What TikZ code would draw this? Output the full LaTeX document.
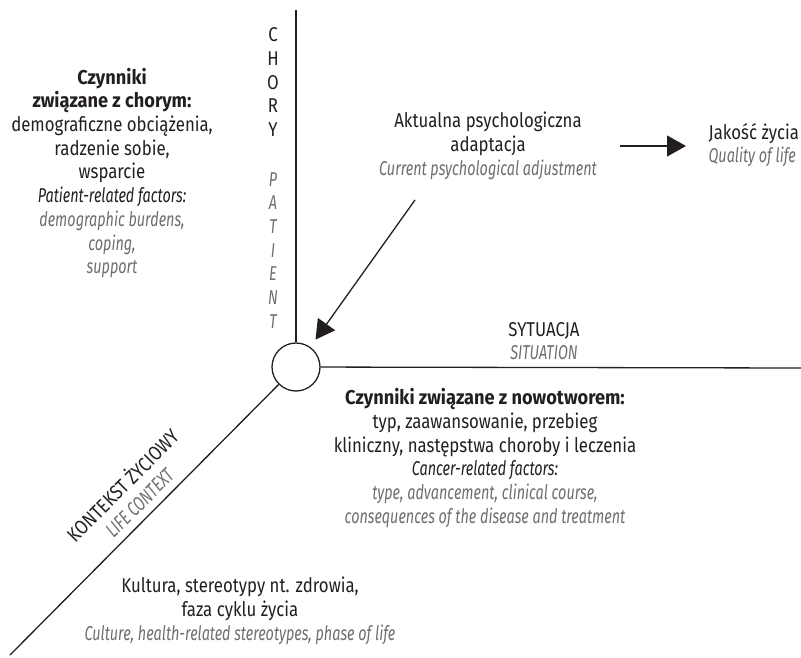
\documentclass[tikz,border=0pt]{standalone}
\usepackage{fontspec}
\setmainfont{Fira Sans}[FakeStretch=0.84, BoldFeatures={FakeStretch=0.91}, ItalicFeatures={FakeStretch=0.72}]
\usetikzlibrary{arrows.meta}
\definecolor{ink}{HTML}{231F20}
\definecolor{engl}{HTML}{6D6E71}
\newcommand{\eng}[1]{\textcolor{engl}{\itshape #1}}

\begin{document}
\begin{tikzpicture}[x=1pt, y=-1pt, line width=1.3pt, draw=ink,
  txt/.style={align=center, text=ink, inner sep=0pt, font=\fontsize{20}{23.7}\selectfont},
  bigtip/.style={-{Triangle[length=19pt,width=21pt]}}]
\useasboundingbox (0,0) rectangle (801,658);
\node [circle, draw, minimum size=48pt, inner sep=0pt] (hub) at (296,367) {};
\coordinate (ptop) at (296,10);
\coordinate (pright) at (801,368);
\coordinate (plow) at (10,655);
\draw (hub) -- (ptop);
\draw (hub) -- (pright);
\draw (hub) -- (plow);
\node [txt] (patient) at (112,173) {\textbf{Czynniki}\\\textbf{związane z chorym:}\\demograficzne obciążenia,\\radzenie sobie,\\wsparcie\\\textit{Patient-related factors:}\\\eng{demographic burdens,}\\\eng{coping,}\\\eng{support}};
\node [txt] (axis) at (273,178) {C\\H\\O\\R\\Y\\[26pt]\eng{P}\\\eng{A}\\\eng{T}\\\eng{I}\\\eng{E}\\\eng{N}\\\eng{T}};
\node [txt] (adj) at (488,146) {Aktualna psychologiczna\\adaptacja\\\eng{Current psychological adjustment}};
\node [txt, align=left, anchor=west] (qol) at (708,145) {Jakość życia\\\eng{Quality of life}};
\node [txt] (sit) at (544,341) {SYTUACJA\\\eng{SITUATION}};
\node [txt] (cancer) at (485,458) {\textbf{Czynniki związane z nowotworem:}\\typ, zaawansowanie, przebieg\\kliniczny, następstwa choroby i leczenia\\\textit{Cancer-related factors:}\\\eng{type, advancement, clinical course,}\\\eng{consequences of the disease and treatment}};
\node [txt, rotate=45] (life) at (130,493) {KONTEKST ŻYCIOWY\\\eng{LIFE CONTEXT}};
\node [txt] (culture) at (240,611) {Kultura, stereotypy nt. zdrowia,\\faza cyklu życia\\\eng{Culture, health-related stereotypes, phase of life}};
\coordinate (adjfoot) at (415,200);
\coordinate (qolfoot) at (620,146);
\draw [bigtip, shorten >=9pt] (adjfoot) -- (hub);
\draw [bigtip, shorten >=22pt] (qolfoot) -- (qolfoot -| qol.west);
\end{tikzpicture}
\end{document}
